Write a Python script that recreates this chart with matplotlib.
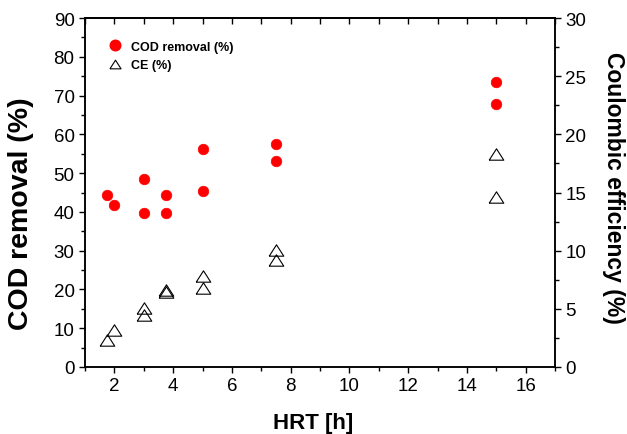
import matplotlib
matplotlib.use("Agg")
import matplotlib.pyplot as plt
from matplotlib.lines import Line2D
from matplotlib.ticker import MultipleLocator

plt.rcParams['font.family'] = ['Liberation Sans', 'DejaVu Sans']

# Data
hrt_cod = [1.75, 2, 3, 3, 3.75, 3.75, 5, 5, 7.5, 7.5, 15, 15]
cod_removal = [44.4, 41.9, 48.5, 39.6, 44.3, 39.6, 56.1, 45.4, 57.5, 53.1, 73.4, 67.8]
hrt_ce = [1.75, 2, 3, 3, 3.75, 3.75, 5, 5, 7.5, 7.5, 15, 15]
ce = [2.3, 3.2, 5.05, 4.45, 6.6, 6.45, 7.8, 6.8, 10.1, 9.2, 18.3, 14.6]

tri = [(-1, -0.78), (1, -0.78), (0, 0.78), (-1, -0.78)]

fig = plt.figure(figsize=(6.27, 4.35), dpi=100)
ax = fig.add_axes([85/627, 1-368/435, 470/627, 349/435])
ax2 = ax.twinx()

ax.plot(hrt_cod, cod_removal, linestyle='none', marker='o', ms=7.6,
        mfc='#ff0000', mec='#ff0000', mew=0.5, zorder=3)
ax2.plot(hrt_ce, ce, linestyle='none', marker=tri, ms=10.5,
         mfc='none', mec='black', mew=0.8, zorder=3)

ax.set_xlim(1, 17)
ax.set_ylim(0, 90)
ax2.set_ylim(0, 30)

ax.xaxis.set_major_locator(MultipleLocator(2))
ax.xaxis.set_minor_locator(MultipleLocator(1))
ax.yaxis.set_major_locator(MultipleLocator(10))
ax.yaxis.set_minor_locator(MultipleLocator(5))
ax2.yaxis.set_major_locator(MultipleLocator(5))
ax2.yaxis.set_minor_locator(MultipleLocator(2.5))

for a in (ax, ax2):
    for s in a.spines.values():
        s.set_linewidth(1.1)

ax.tick_params(axis='both', which='major', direction='out', length=4.5, width=1,
               labelsize=13.5, pad=3)
ax.tick_params(axis='both', which='minor', direction='out', length=3, width=1)
ax2.tick_params(axis='y', which='major', direction='out', length=4.5, width=1,
                labelsize=13.5, pad=3)
ax2.tick_params(axis='y', which='minor', direction='out', length=3, width=1)

# top ticks inward
top = ax.secondary_xaxis('top')
top.xaxis.set_major_locator(MultipleLocator(1))
top.tick_params(axis='x', which='major', direction='in', length=4, width=1,
                labeltop=False)
top.spines['top'].set_linewidth(1.1)
ax.tick_params(axis='x', which='both', top=False)

ax.set_xlabel('HRT [h]', fontsize=16, fontweight='bold')
ax.xaxis.set_label_coords(0.485, -0.128)
ax.set_ylabel('COD removal (%)', fontsize=20.5, fontweight='bold')
ax.yaxis.set_label_coords(-0.1085, 0.441)
ax2.set_ylabel('Coulombic efficiency (%)', fontsize=16.5, fontweight='bold',
               rotation=270, va='bottom')
ax2.yaxis.set_label_coords(1.099, 0.516)

handles = [
    Line2D([], [], linestyle='none', marker='o', ms=7.6, mfc='#ff0000', mec='#ff0000'),
    Line2D([], [], linestyle='none', marker=tri, ms=8, mfc='none', mec='black', mew=0.8),
]
leg = ax.legend(handles, ['COD removal (%)', 'CE (%)'], loc='upper left',
                bbox_to_anchor=(0.05, 0.935), frameon=False, borderpad=0,
                borderaxespad=0, handlelength=1.0, handletextpad=0.8,
                labelspacing=0.5, prop={'weight': 'bold', 'size': 9})

fig.savefig('out.png', dpi=100)
